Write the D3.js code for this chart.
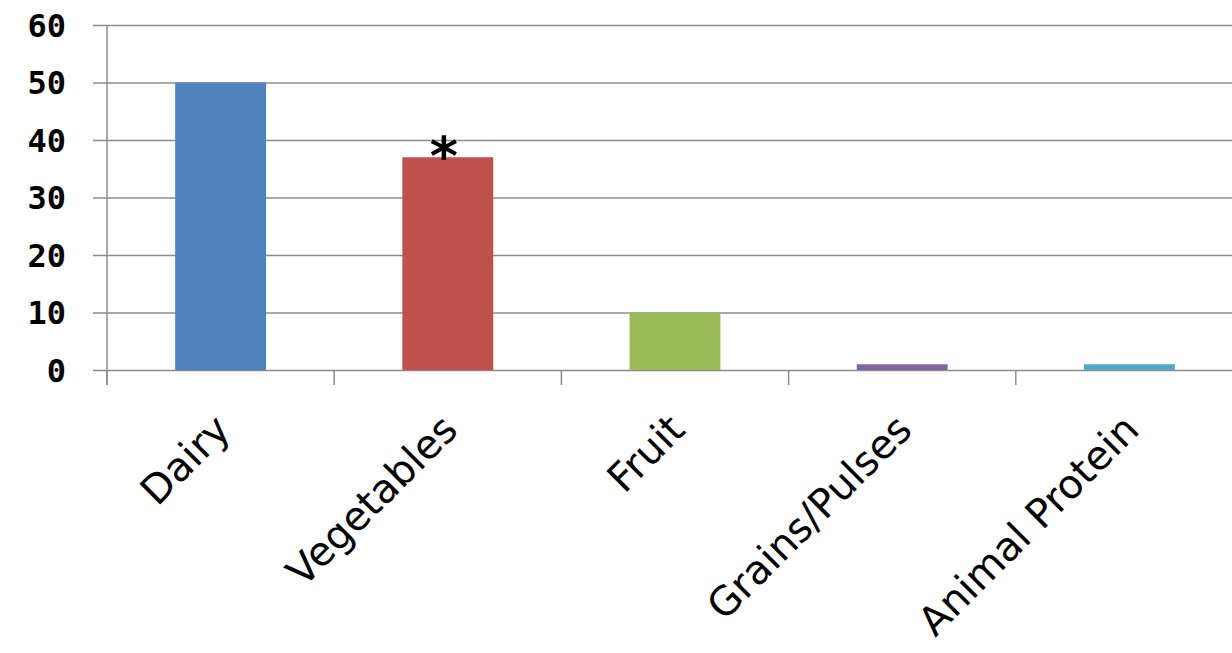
<!DOCTYPE html>
<html>
<head>
<meta charset="utf-8">
<script src="https://cdn.jsdelivr.net/npm/d3@7"></script>
<style>
  body { margin: 0; background: #fff; }
  svg { display: block; }
</style>
</head>
<body>
<div id="chart"></div>
<script>
var categories = ['Dairy', 'Vegetables', 'Fruit', 'Grains/Pulses', 'Animal Protein'];
var values = [50, 37, 10, 1, 1];
var colors = ['#4F81BD', '#C0504D', '#9BBB59', '#8064A2', '#4BACC6'];
var yTicks = [0, 10, 20, 30, 40, 50, 60];
var starred = ['Vegetables'];

var width = 1232, height = 653;
var margin = {top: 25, left: 107, bottom: 283};
var plotH = height - margin.top - margin.bottom; // 345
var band = 227.2;

var svg = d3.select('#chart').append('svg')
    .attr('width', width)
    .attr('height', height);

var x = d3.scaleBand()
    .domain(categories)
    .range([margin.left, margin.left + band * categories.length])
    .paddingInner(0.6)
    .paddingOuter(0.3);

var y = d3.scaleLinear()
    .domain([0, 60])
    .range([margin.top + plotH, margin.top]);

// gridlines
svg.append('g')
  .selectAll('line')
  .data(yTicks)
  .enter().append('line')
    .attr('x1', margin.left - 14)
    .attr('x2', width)
    .attr('y1', function(d) { return y(d) + 0.5; })
    .attr('y2', function(d) { return y(d) + 0.5; })
    .attr('stroke', '#8c8c8c')
    .attr('stroke-width', 1.5);

// y axis line
svg.append('line')
    .attr('x1', margin.left).attr('x2', margin.left)
    .attr('y1', y(60)).attr('y2', y(0) + 15)
    .attr('stroke', '#8c8c8c')
    .attr('stroke-width', 1.5);

// x category ticks
svg.append('g')
  .selectAll('line')
  .data(d3.range(categories.length + 1))
  .enter().append('line')
    .attr('x1', function(i) { return margin.left + i * band; })
    .attr('x2', function(i) { return margin.left + i * band; })
    .attr('y1', y(0))
    .attr('y2', y(0) + 15)
    .attr('stroke', '#8c8c8c')
    .attr('stroke-width', 1.5);

// y labels
svg.append('g')
  .selectAll('text')
  .data(yTicks)
  .enter().append('text')
    .attr('x', 66)
    .attr('y', function(d) { return y(d); })
    .attr('dy', '0.36em')
    .attr('text-anchor', 'end')
    .attr('font-family', 'DejaVu Sans Mono, monospace')
    .attr('font-weight', 'bold')
    .attr('font-size', 32)
    .attr('fill', '#000')
    .text(function(d) { return d; });

// bars
svg.append('g')
  .selectAll('rect')
  .data(values)
  .enter().append('rect')
    .attr('x', function(d, i) { return x(categories[i]); })
    .attr('y', function(d) { return y(d); })
    .attr('width', x.bandwidth())
    .attr('height', function(d) { return y(0) - y(d); })
    .attr('fill', function(d, i) { return colors[i]; });

// asterisk marking significance
svg.append('g')
  .selectAll('text')
  .data(starred)
  .enter().append('text')
    .attr('x', function(c) { return x(c) + x.bandwidth() / 2 - 4; })
    .attr('y', function(c) { return y(values[categories.indexOf(c)]) + 18; })
    .attr('text-anchor', 'middle')
    .attr('font-family', 'DejaVu Sans, sans-serif')
    .attr('font-weight', 'bold')
    .attr('font-size', 54)
    .text('*');

// category labels
svg.append('g')
  .selectAll('text')
  .data(categories)
  .enter().append('text')
    .attr('transform', function(c) {
      return 'translate(' + (x(c) + x.bandwidth() / 2 + 2) + ',' + (y(0) + 52) + ') rotate(-45)';
    })
    .attr('text-anchor', 'end')
    .attr('dy', '0.35em')
    .attr('font-family', 'DejaVu Sans, Verdana, sans-serif')
    .attr('font-size', 40)
    .attr('fill', '#000')
    .text(function(c) { return c; });
</script>
</body>
</html>
